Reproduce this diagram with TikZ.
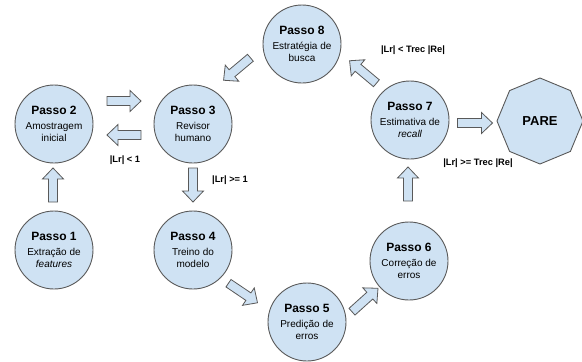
\documentclass[tikz,border=0pt]{standalone}
\usepackage{fontspec}
\setmainfont{Liberation Sans}
\usetikzlibrary{shapes.geometric}
\definecolor{boxfill}{HTML}{CFE2F3}
\definecolor{edge}{HTML}{595959}
\tikzset{
  stepcircle/.style={circle, draw=edge, line width=0.9pt, fill=boxfill, minimum size=78pt, inner sep=0pt, align=center},
  stopoct/.style={regular polygon, regular polygon sides=8, shape border rotate=22.5, draw=edge, line width=0.9pt, fill=boxfill, minimum size=86pt, inner sep=0pt, font=\fontsize{13}{15}\selectfont\bfseries},
  blockarr/.style={draw=edge, line width=0.8pt, fill=boxfill, line join=miter},
  cond/.style={font=\fontsize{9.3}{11}\selectfont\bfseries, inner sep=0pt}
}
\newcommand{\steptext}[2]{\fontsize{12}{14}\selectfont\bfseries #1\\[3pt]\fontsize{10}{13.5}\selectfont\mdseries #2}
% block arrow: x, y, angle, length
\newcommand{\blockarrow}[4]{%
  \begin{scope}[shift={(#1,#2)}, rotate=#3]
    \draw[blockarr] (-#4/2,-4.5) -- (#4/2-11,-4.5) -- (#4/2-11,-10.5) -- (#4/2,0)
      -- (#4/2-11,10.5) -- (#4/2-11,4.5) -- (-#4/2,4.5) -- cycle;
  \end{scope}}
\begin{document}
\begin{tikzpicture}[x=1pt,y=-1pt]
\useasboundingbox (0,0) rectangle (582,362);
\node[stepcircle] (p1) at (54,250) {\steptext{Passo 1}{Extração de\\\itshape features}};
\node[stepcircle] (p2) at (54,124) {\steptext{Passo 2}{Amostragem\\inicial}};
\node[stepcircle] (p3) at (193,124) {\steptext{Passo 3}{Revisor\\humano}};
\node[stepcircle] (p4) at (193,250) {\steptext{Passo 4}{Treino do\\modelo}};
\node[stepcircle] (p5) at (307,322) {\steptext{Passo 5}{Predição de\\erros}};
\node[stepcircle] (p6) at (409,261) {\steptext{Passo 6}{Correção de\\erros}};
\node[stepcircle] (p7) at (410,120) {\steptext{Passo 7}{Estimativa de\\\itshape recall}};
\node[stepcircle] (p8) at (302,44) {\steptext{Passo 8}{Estratégia de\\busca}};
\node[stopoct] (pare) at (540,121) {PARE};

\blockarrow{53}{185}{90}{34}
\blockarrow{124}{101}{0}{34}
\blockarrow{124}{135}{180}{34}
\blockarrow{193}{185}{270}{34}
\blockarrow{243}{293}{-34}{35}
\blockarrow{365}{300}{42}{35}
\blockarrow{408}{184}{90}{34}
\blockarrow{363}{72}{140}{35}
\blockarrow{237}{69}{220}{35}
\blockarrow{475}{123}{0}{35}

\node[cond] (c1) at (125,160) {|Lr| < 1};
\node[cond, anchor=west] (c2) at (212,180) {|Lr| >= 1};
\node[cond] (c3) at (413,50) {|Lr| < Trec |Re|};
\node[cond] (c4) at (478,163) {|Lr| >= Trec |Re|};
\end{tikzpicture}
\end{document}
